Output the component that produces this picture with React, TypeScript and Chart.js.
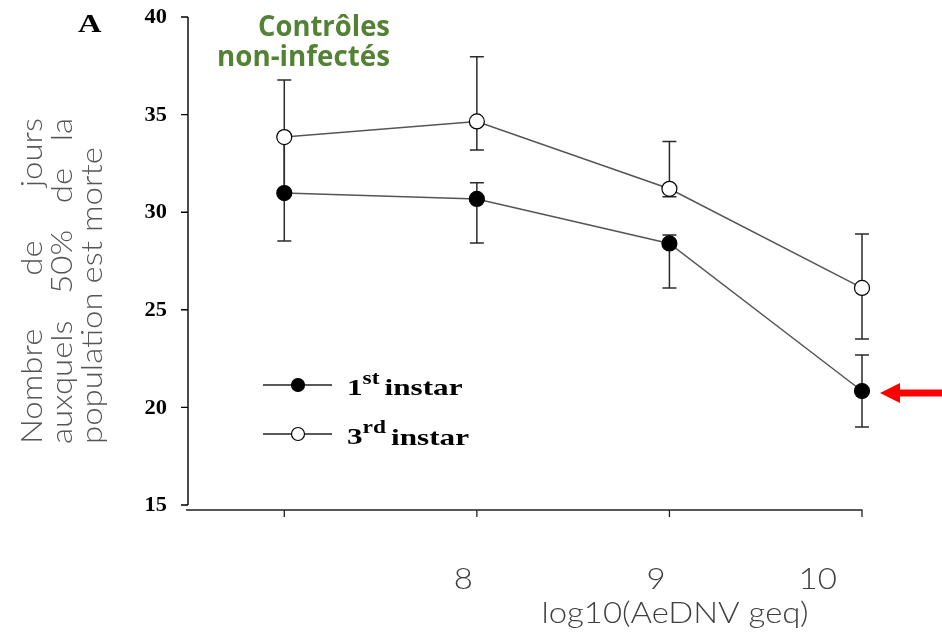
import { useEffect, useRef } from 'react';
import { Chart, registerables } from 'chart.js';

Chart.register(...registerables);

// ---- data ----
const doseLog = [7, 8, 9, 10];
const firstInstar = [30.98, 30.68, 28.4, 20.84];
const firstHigh = [33.85, 31.51, 28.83, 22.68];
const firstLow = [28.52, 28.42, 26.12, 19.0];
const thirdInstar = [33.85, 34.65, 31.2, 26.12];
const thirdHigh = [36.77, 37.97, 33.62, 28.88];
const thirdLow = [30.98, 33.19, 30.79, 23.5];

const yTicks = [15, 20, 25, 30, 35, 40];
const xTickValues = [7, 8, 9, 10];
const xLabelTexts = ['8', '9', '10'];
const xLabelAt = [7.93, 8.93, 9.77];
const xTitle = 'log10(AeDNV geq)';
const yTitleLines = ['Nombre de jours', 'auxquels 50% de la', 'population est morte'];
const panelLetter = 'A';
const greenTitle = ['Contrôles', 'non-infectés'];
const legendItems = [
  { main: '1', sup: 'st', rest: 'instar', fill: '#000000' },
  { main: '3', sup: 'rd', rest: 'instar', fill: '#ffffff' },
];

const SERIF = '"Liberation Serif", "Times New Roman", serif';
const SANS_LIGHT = '300 30px Lato, "Open Sans", sans-serif';

function stretchText(ctx: CanvasRenderingContext2D, text: string, x: number, y: number, sx: number, align: CanvasTextAlign) {
  ctx.save();
  ctx.translate(x, y);
  ctx.scale(sx, 1);
  ctx.textAlign = align;
  ctx.fillText(text, 0, 0);
  ctx.restore();
}

const figurePlugin = {
  id: 'figureExtras',
  beforeDatasetsDraw(chart: any) {
    const ctx: CanvasRenderingContext2D = chart.ctx;
    const xs = chart.scales.x;
    const ys = chart.scales.y;
    ctx.save();
    ctx.strokeStyle = '#2a2a2a';
    ctx.lineWidth = 1.5;
    const cap = 7;
    const drawBars = (hi: number[], lo: number[]) => {
      doseLog.forEach((d, i) => {
        const px = xs.getPixelForValue(d);
        const pt = ys.getPixelForValue(hi[i]);
        const pb = ys.getPixelForValue(lo[i]);
        ctx.beginPath();
        ctx.moveTo(px, pt);
        ctx.lineTo(px, pb);
        ctx.moveTo(px - cap, pt);
        ctx.lineTo(px + cap, pt);
        ctx.moveTo(px - cap, pb);
        ctx.lineTo(px + cap, pb);
        ctx.stroke();
      });
    };
    drawBars(firstHigh, firstLow);
    drawBars(thirdHigh, thirdLow);
    ctx.restore();
  },
  afterDraw(chart: any) {
    const ctx: CanvasRenderingContext2D = chart.ctx;
    const xs = chart.scales.x;
    const ys = chart.scales.y;
    const area = chart.chartArea;
    ctx.save();

    // y axis
    ctx.strokeStyle = '#000';
    ctx.lineWidth = 1.4;
    ctx.beginPath();
    ctx.moveTo(area.left, ys.getPixelForValue(40));
    ctx.lineTo(area.left, ys.getPixelForValue(15));
    yTicks.forEach((t) => {
      const py = ys.getPixelForValue(t);
      ctx.moveTo(area.left - 7, py);
      ctx.lineTo(area.left, py);
    });
    ctx.stroke();
    ctx.fillStyle = '#000';
    ctx.font = `bold 20px ${SERIF}`;
    ctx.textBaseline = 'middle';
    yTicks.forEach((t) => {
      stretchText(ctx, String(t), area.left - 21, ys.getPixelForValue(t) + 1, 1.12, 'right');
    });

    // x axis (offset below)
    const axY = area.bottom + 5;
    ctx.strokeStyle = '#222';
    ctx.lineWidth = 1.3;
    ctx.beginPath();
    ctx.moveTo(area.left - 2, axY);
    ctx.lineTo(xs.getPixelForValue(10) + 0.5, axY);
    xTickValues.forEach((v) => {
      const px = xs.getPixelForValue(v);
      ctx.moveTo(px, axY);
      ctx.lineTo(px, axY + 7);
    });
    ctx.stroke();

    // x labels (gray, light)
    ctx.fillStyle = '#3f3f3f';
    ctx.font = SANS_LIGHT;
    ctx.textBaseline = 'alphabetic';
    xLabelTexts.forEach((t, i) => {
      stretchText(ctx, t, xs.getPixelForValue(xLabelAt[i]), 589, 1.1, 'center');
    });
    const xtW = ctx.measureText(xTitle).width;
    stretchText(ctx, xTitle, 675, 623, 267 / xtW, 'center');

    // y title (rotated, justified)
    ctx.fillStyle = '#555555';
    ctx.font = SANS_LIGHT;
    const baselines = [42, 72, 102];
    const startY = 444;
    const justifyLen = 326;
    const lastW = ctx.measureText(yTitleLines[yTitleLines.length - 1]).width;
    const sxT = 297 / lastW;
    yTitleLines.forEach((line, li) => {
      ctx.save();
      ctx.translate(baselines[li], startY);
      ctx.rotate(-Math.PI / 2);
      ctx.scale(sxT, 1);
      ctx.textAlign = 'left';
      ctx.textBaseline = 'alphabetic';
      const words = line.split(' ');
      if (li < yTitleLines.length - 1) {
        const widths = words.map((w) => ctx.measureText(w).width);
        const total = widths.reduce((a, b) => a + b, 0);
        const gap = (justifyLen / sxT - total) / (words.length - 1);
        let pos = 0;
        words.forEach((w, wi) => {
          ctx.fillText(w, pos, 0);
          pos += widths[wi] + gap;
        });
      } else {
        ctx.fillText(line, 0, 0);
      }
      ctx.restore();
    });

    // panel letter
    ctx.fillStyle = '#000';
    ctx.font = `bold 25px ${SERIF}`;
    stretchText(ctx, panelLetter, 78, 32, 1.3, 'left');

    // green title
    ctx.fillStyle = '#548235';
    ctx.font = 'bold 28px "Open Sans", sans-serif';
    const g0 = ctx.measureText(greenTitle[0]).width;
    const g1 = ctx.measureText(greenTitle[1]).width;
    stretchText(ctx, greenTitle[0], 390, 36, 132 / g0, 'right');
    stretchText(ctx, greenTitle[1], 390, 66, 173 / g1, 'right');

    // legend
    const rowsY = [385, 434];
    legendItems.forEach((it, i) => {
      const ly = rowsY[i];
      ctx.strokeStyle = '#222';
      ctx.lineWidth = 1.3;
      ctx.beginPath();
      ctx.moveTo(263, ly);
      ctx.lineTo(332, ly);
      ctx.stroke();
      ctx.beginPath();
      ctx.arc(298, ly, 6.5, 0, Math.PI * 2);
      ctx.fillStyle = it.fill;
      ctx.fill();
      ctx.lineWidth = 1.2;
      ctx.strokeStyle = '#000';
      ctx.stroke();
      ctx.fillStyle = '#000';
      ctx.textBaseline = 'alphabetic';
      const sx = 1.3;
      let x = 347;
      ctx.font = `bold 24px ${SERIF}`;
      stretchText(ctx, it.main, x, ly + 10, sx, 'left');
      x += ctx.measureText(it.main).width * sx;
      ctx.font = `bold 18px ${SERIF}`;
      stretchText(ctx, it.sup, x, ly - 1, sx, 'left');
      x += ctx.measureText(it.sup).width * sx + 5;
      ctx.font = `bold 24px ${SERIF}`;
      stretchText(ctx, it.rest, x, ly + 10 + (i === 1 ? 1 : 0), sx, 'left');
    });

    // red arrow pointing at last 1st-instar point
    const tipX = xs.getPixelForValue(doseLog[3]) + 18;
    const tipY = ys.getPixelForValue(firstInstar[3]) + 2;
    ctx.fillStyle = '#ff0000';
    ctx.beginPath();
    ctx.moveTo(tipX, tipY);
    ctx.lineTo(tipX + 20, tipY - 10);
    ctx.lineTo(tipX + 20, tipY - 3.5);
    ctx.lineTo(942, tipY - 3.5);
    ctx.lineTo(942, tipY + 3.5);
    ctx.lineTo(tipX + 20, tipY + 3.5);
    ctx.lineTo(tipX + 20, tipY + 10);
    ctx.closePath();
    ctx.fill();

    ctx.restore();
  },
};

export default function App() {
  const ref = useRef<HTMLCanvasElement | null>(null);
  useEffect(() => {
    if (!ref.current) return;
    const chart = new Chart(ref.current, {
      type: 'line',
      data: {
        datasets: [
          {
            label: '3rd instar',
            data: doseLog.map((x, i) => ({ x, y: thirdInstar[i] })),
            borderColor: '#555555',
            borderWidth: 1.5,
            pointRadius: 7.5,
            pointBorderWidth: 1.2,
            pointBackgroundColor: '#ffffff',
            pointBorderColor: '#000000',
            clip: false as any,
          },
          {
            label: '1st instar',
            data: doseLog.map((x, i) => ({ x, y: firstInstar[i] })),
            borderColor: '#555555',
            borderWidth: 1.5,
            pointRadius: 7.5,
            pointBorderWidth: 1.2,
            pointBackgroundColor: '#000000',
            pointBorderColor: '#000000',
            clip: false as any,
          },
        ],
      },
      options: {
        responsive: false,
        animation: false,
        layout: { padding: { left: 188, right: 80, top: 17, bottom: 129 } },
        scales: {
          x: { type: 'linear', min: 6.5, max: 10, display: false },
          y: { type: 'linear', min: 15, max: 40, display: false },
        },
        plugins: { legend: { display: false }, tooltip: { enabled: false } },
      },
      plugins: [figurePlugin],
    });
    return () => chart.destroy();
  }, []);
  return (
    <div style={{ position: 'fixed', left: 0, top: 0, width: 942, height: 634, background: '#fff' }}>
      <canvas ref={ref} width={942} height={634} style={{ width: 942, height: 634, display: 'block' }} />
    </div>
  );
}
